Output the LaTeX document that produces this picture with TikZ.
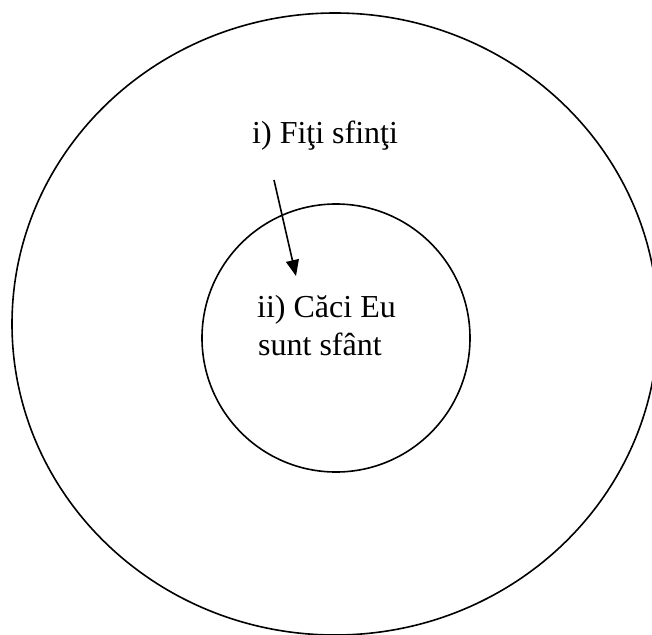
\documentclass[tikz,border=0pt]{standalone}
\usepackage{fontspec}
\setmainfont{Liberation Serif}
\usetikzlibrary{arrows.meta}
\begin{document}
\begin{tikzpicture}[x=1pt,y=-1pt,
  ring/.style={draw=black,line width=1.6pt},
  label/.style={inner sep=0pt,anchor=base west,font=\fontsize{32}{38}\selectfont},
  pointer/.style={line width=1.6pt,-{Triangle[length=16pt,width=13pt]}}]
\useasboundingbox (0,0) rectangle (652,634);
\clip (0,0) rectangle (652,634);
\draw[ring] (335,324) ellipse [x radius=323,y radius=311];
\draw[ring] (336,338) circle [radius=134];
\node[label] (t1) at (252,143) {i) Fiţi sfinţi};
\node[label] (t2) at (257,317) {ii) Căci Eu};
\node[label] (t3) at (258,355) {sunt sfânt};
\coordinate (a1) at (274,180);
\coordinate (a2) at (296,276);
\draw[pointer] (a1) -- (a2);
\end{tikzpicture}
\end{document}
